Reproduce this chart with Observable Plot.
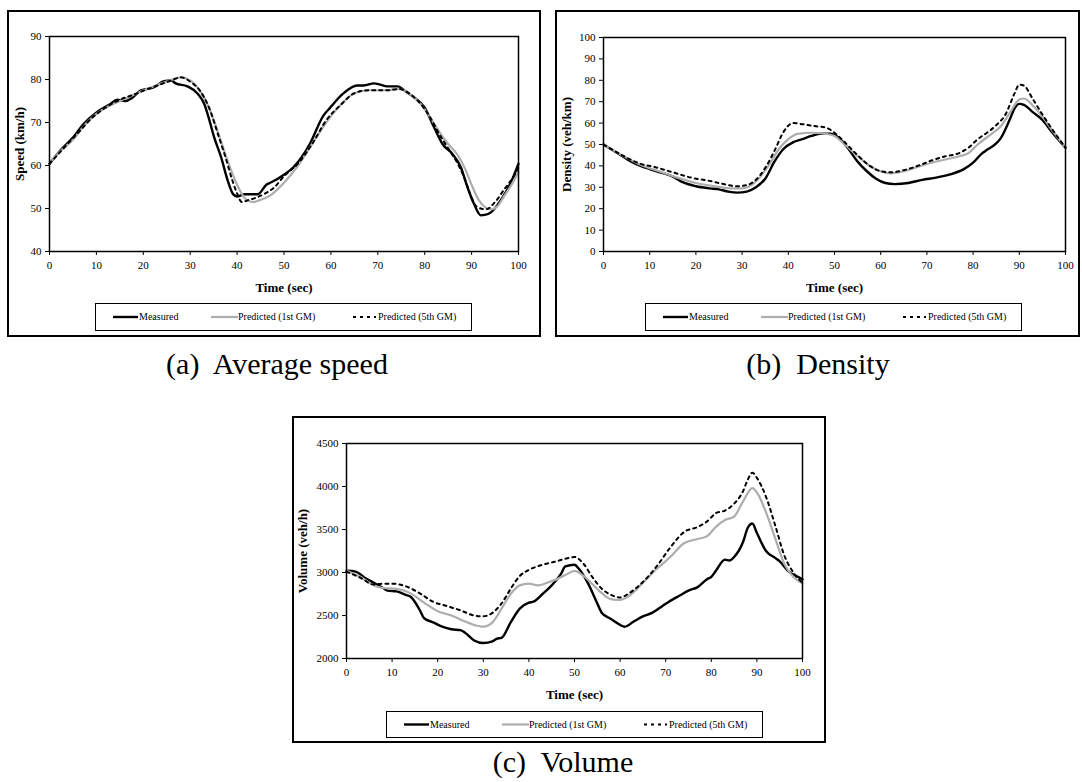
<!DOCTYPE html>
<html><head><meta charset="utf-8">
<script src="https://cdn.jsdelivr.net/npm/d3@7"></script>
<script src="https://cdn.jsdelivr.net/npm/@observablehq/plot@0.6"></script>
<style>
body{margin:0;background:#fff;font-family:"Liberation Serif","Times New Roman",serif;}
#page{position:relative;width:1082px;height:782px;overflow:hidden;background:#fff}
.panel{position:absolute;border:2px solid #000;box-sizing:border-box;}
.chart{position:absolute}
.legend{position:absolute;border:1px solid #000;box-sizing:border-box;font-size:10px;color:#000}
.legend .sw{position:absolute;top:0;height:100%}
.legend .lt{position:absolute;top:50%;transform:translateY(-50%);white-space:nowrap;line-height:1}
.caption{position:absolute;font-size:30px;transform:translate(-50%,-50%);white-space:pre;line-height:1}
</style>
</head><body><div id="page"></div>
<script>
// ---------- data ----------
const timeTicks = [0,10,20,30,40,50,60,70,80,90,100];
const seriesNames = ["Measured","Predicted (1st GM)","Predicted (5th GM)"];

const speedTicks = [40,50,60,70,80,90];
const speedMeasured = [[0,60.4],[2.3,63.5],[5.1,66.6],[7.3,69.7],[10.1,72.4],[13,74.3],[14.4,75.3],[16.2,75],[17.6,75.7],[19.4,77.4],[22.3,78.2],[24.4,79.6],[25.9,79.8],[26.9,79.1],[29.4,78.4],[31.6,76.7],[33,74.3],[34.1,70.5],[35.1,66.6],[36.6,61.9],[38,56.5],[39.1,53.4],[40,52.8],[41.6,53.3],[44.4,53.3],[46.3,55.6],[47.3,56.1],[49.9,57.8],[52,59.6],[55.5,65],[58.4,71.6],[59.8,73.4],[62.6,76.7],[65.6,78.6],[67,78.6],[69.2,79.1],[70.5,78.8],[72,78.4],[74.2,78.4],[76,77.2],[77.7,75.9],[79.9,73.6],[82,68.9],[83.8,65],[85.9,62.7],[87.7,59.6],[89.1,55],[90.5,51.1],[92,48.4],[92.8,48.5],[94.1,49.1],[96.2,51.9],[98.4,56.1],[100,60.4]];
const speedPred1 = [[0,60.4],[2,63],[5,66],[8,70],[10,72],[13,74],[16,75.5],[19,77],[22,78.3],[25,79.5],[28,80.5],[30,79.8],[32,77.5],[34,73.5],[36,67.5],[38,61],[40,55.5],[42,52],[43.5,51.5],[45,52],[47,53],[50,56],[53,60],[56,65],[59,70],[62,74],[65,76.8],[68,77.5],[72,77.5],[74.5,77.8],[77,76.5],[79,74.5],[81,71.5],[83,68],[85,65],[87,62.5],[88.5,59.5],[90,55.5],[91.5,52],[93,50.2],[94,49.8],[95.5,50.5],[97,53],[98.5,55.5],[100,58.5]];
const speedPred5 = [[0,60.4],[3,64],[6,67.5],[9,71],[12,73.5],[15,75.3],[18,76.5],[21,77.8],[24,79],[26,79.8],[28,80.5],[30,79.5],[32,77.5],[34,73.5],[36,67],[37.5,62],[39,56.5],[40,53.5],[41,51.5],[42.5,52],[44,52.5],[46,53.5],[48,55],[50,57.5],[53,60.5],[56,65],[59,70.5],[62,74],[65,76.8],[68,77.5],[72,77.5],[74.5,77.8],[77,76.5],[79,74.5],[81,71.5],[83,67.5],[85,64],[87,60.5],[88.5,57],[90,52.5],[91,50.5],[93,49.8],[95,51.5],[97,54.5],[99,57.5],[100,59.5]];

const densityTicks = [0,10,20,30,40,50,60,70,80,90,100];
const densityMeasured = [[0,50],[3,46],[6,42],[8,40],[10,38.5],[13,36.5],[15,35],[17,32.5],[20,30.5],[23,29.5],[25,29],[27,28],[29,27.5],[31,28],[33,30],[35,34],[37,42],[39,48],[41,51],[43,52.5],[45,54],[47,55],[49,55],[51,53],[53,48],[55,42],[57,37.5],[59,34],[61,32],[63,31.5],[66,32],[69,33.5],[72,34.5],[75,36],[78,38.5],[80,41.5],[82,46],[83,47.5],[85,50.5],[86,53],[88,62],[89,67],[90,69],[91,68.5],[93,65],[95,61.5],[97,56],[100,48.5]];
const densityPred1 = [[0,50],[4,45],[8,40.5],[12,37.5],[16,34.5],[20,32],[24,30.5],[28,29.5],[30,29.5],[32,31],[34,35],[36,41],[38,48],[40,52.5],[42,55],[45,55.5],[48,55],[50,54],[52,50.5],[55,44.5],[58,39.5],[60,37.5],[62,36.5],[65,37.5],[68,39.5],[71,41.5],[74,43],[77,44.5],[79,46],[81,50],[84,55],[86,58.5],[88,65],[90,71],[91,71.5],[93,68],[95,63],[97,57],[100,48.5]];
const densityPred5 = [[0,50],[4,45],[8,41],[11,39.5],[15,37],[19,34.5],[23,33],[26,31.5],[29,30.5],[31,31],[33,33.5],[35,39],[37,47],[39,56],[41,60],[43,59.5],[46,58.5],[48,58],[50,55.5],[52,51.5],[55,45],[58,39.5],[60,37.5],[62,37],[65,38],[68,40],[71,42.5],[74,44.5],[77,46],[79,48.5],[81,52.5],[83,55.5],[85,59],[87,64],[89,74],[90,78],[91,77.5],[93,71],[95,64],[97,57.5],[100,48.5]];

const volumeTicks = [2000,2500,3000,3500,4000,4500];
const volumeMeasured = [[0,3020],[2,3010],[4,2940],[6,2880],[8,2820],[9,2790],[11,2780],[13,2740],[14,2720],[16,2570],[17,2470],[19,2420],[21,2370],[23,2340],[25,2330],[26,2300],[28,2210],[30,2180],[32,2200],[33,2230],[34,2240],[36,2420],[38,2580],[40,2650],[41,2660],[43,2750],[45,2850],[47,2980],[48,3070],[50,3090],[51,3040],[53,2870],[55,2640],[56,2530],[58,2460],[60,2390],[61,2370],[63,2430],[65,2490],[67,2530],[69,2600],[71,2670],[73,2730],[75,2790],[77,2830],[79,2920],[80,2950],[81,3020],[83,3150],[84,3140],[85,3180],[87,3360],[88,3520],[89,3570],[90,3460],[92,3250],[94,3170],[95,3130],[97,3010],[99,2950],[100,2920]];
const volumePred1 = [[0,3020],[3,2950],[6,2850],[8,2820],[11,2810],[14,2760],[17,2650],[20,2550],[23,2500],[26,2430],[28,2390],[30,2370],[32,2420],[34,2580],[36,2750],[38,2850],[40,2870],[42,2850],[44,2880],[46,2920],[48,2970],[50,3020],[52,2960],[54,2860],[56,2760],[58,2690],[60,2680],[62,2730],[65,2880],[68,3040],[71,3180],[74,3340],[77,3390],[79,3420],[81,3530],[83,3610],[85,3650],[87,3830],[89,3980],[90,3930],[92,3700],[94,3400],[96,3100],[98,2950],[100,2870]];
const volumePred5 = [[0,3010],[3,2940],[6,2860],[8,2870],[10,2870],[13,2840],[16,2760],[19,2660],[22,2610],[25,2560],[28,2500],[30,2490],[32,2530],[34,2640],[36,2810],[38,2960],[40,3030],[43,3090],[46,3130],[48,3160],[50,3180],[52,3100],[54,2940],[56,2810],[58,2740],[60,2710],[62,2760],[65,2890],[68,3070],[71,3290],[74,3470],[77,3530],[79,3590],[81,3690],[83,3720],[85,3800],[87,3950],[88,4080],[89,4160],[90,4100],[92,3880],[94,3550],[96,3200],[98,3000],[100,2880]];

// ---------- styles ----------
const lineStyles = [
  {stroke:"#000", strokeWidth:2.4},
  {stroke:"#adadad", strokeWidth:2.2},
  {stroke:"#000", strokeWidth:2, strokeDasharray:"3,4"}
];

const page = document.getElementById("page");

function drawPanel(cfg){
  const [fl,ft,fr,fb] = cfg.frame;
  const fr_ = document.createElement("div");
  fr_.className = "panel";
  Object.assign(fr_.style,{left:fl+"px",top:ft+"px",width:(fr-fl)+"px",height:(fb-ft)+"px"});
  page.appendChild(fr_);

  const [pl,pt,pr,pb] = cfg.plot;
  const sl = fl+2, st = ft+2, sw = fr-fl-4, sh = cfg.svgBottom - st;
  const data = [cfg.series[0], cfg.series[1], cfg.series[2]];
  const chart = Plot.plot({
    width: sw, height: sh,
    marginLeft: pl-sl, marginTop: pt-st, marginRight: sl+sw-pr, marginBottom: st+sh-pb,
    style:{fontFamily:"'Liberation Serif','Times New Roman',serif", fontSize:"11px", color:"#000", background:"transparent", overflow:"visible"},
    x:{domain:[0,100], ticks: timeTicks, tickFormat: d3.format("d"), tickSize:4, tickPadding:6, label:"Time (sec)", labelAnchor:"center", labelOffset: cfg.xLabelOffset, labelArrow:"none"},
    y:{domain:cfg.yDomain, ticks: cfg.yTicks, tickFormat: d3.format("d"), tickSize:4, tickPadding:4, label:cfg.yLabel, labelAnchor:"center", labelOffset: cfg.yLabelOffset, labelArrow:"none"},
    marks:[
      ...data.map((s,i)=>Plot.line(s,{x:d=>d[0], y:d=>d[1], curve:"monotone-x", ...lineStyles[i]})),
      Plot.frame({stroke:"#000", strokeWidth:1.5})
    ]
  });
  chart.classList.add("chart");
  Object.assign(chart.style,{left:sl+"px",top:st+"px"});
  d3.select(chart).selectAll('g[aria-label="x-axis label"] text, g[aria-label="y-axis label"] text')
    .attr("font-weight","bold").attr("font-size","13px");
  page.appendChild(chart);

  // legend
  const [ll,lt,lr,lb] = cfg.legend;
  const lg = document.createElement("div");
  lg.className = "legend";
  Object.assign(lg.style,{left:ll+"px",top:lt+"px",width:(lr-ll)+"px",height:(lb-lt)+"px"});
  const items = [{sx:17,sw:25,tx:43},{sx:115,sw:27,tx:142},{sx:257,sw:23,tx:282}];
  items.forEach((it,i)=>{
    const h = lb-lt-2;
    const s = d3.create("svg").attr("class","sw").attr("width",it.sw).attr("height",h)
      .style("left",it.sx+"px");
    const ls = lineStyles[i];
    s.append("line").attr("x1",0).attr("x2",it.sw).attr("y1",h/2).attr("y2",h/2)
      .attr("stroke",ls.stroke).attr("stroke-width",ls.strokeWidth)
      .attr("stroke-dasharray",ls.strokeDasharray||null);
    lg.appendChild(s.node());
    const t = document.createElement("div");
    t.className = "lt"; t.textContent = seriesNames[i]; t.style.left = it.tx+"px";
    lg.appendChild(t);
  });
  page.appendChild(lg);

  const c = document.createElement("div");
  c.className = "caption"; c.textContent = cfg.caption;
  Object.assign(c.style,{left:cfg.capPos[0]+"px",top:cfg.capPos[1]+"px"});
  page.appendChild(c);
}

drawPanel({frame:[7,10,541,337], plot:[49,36,518,251], svgBottom:296, legend:[95,303,472,331],
  yDomain:[40,90], yTicks:speedTicks, yLabel:"Speed (km/h)", xLabelOffset:40, yLabelOffset:35,
  series:[speedMeasured,speedPred1,speedPred5], caption:"(a)  Average speed", capPos:[277,364]});
drawPanel({frame:[555,10,1080,337], plot:[603,37,1065,251], svgBottom:296, legend:[645,303,1022,331],
  yDomain:[0,100], yTicks:densityTicks, yLabel:"Density (veh/km)", xLabelOffset:40, yLabelOffset:42,
  series:[densityMeasured,densityPred1,densityPred5], caption:"(b)  Density", capPos:[818,364]});
drawPanel({frame:[292,416,826,743], plot:[346,443,802,658], svgBottom:704, legend:[386,711,763,738],
  yDomain:[2000,4500], yTicks:volumeTicks, yLabel:"Volume (veh/h)", xLabelOffset:40, yLabelOffset:49,
  series:[volumeMeasured,volumePred1,volumePred5], caption:"(c)  Volume", capPos:[563,762]});
</script>
</body></html>
